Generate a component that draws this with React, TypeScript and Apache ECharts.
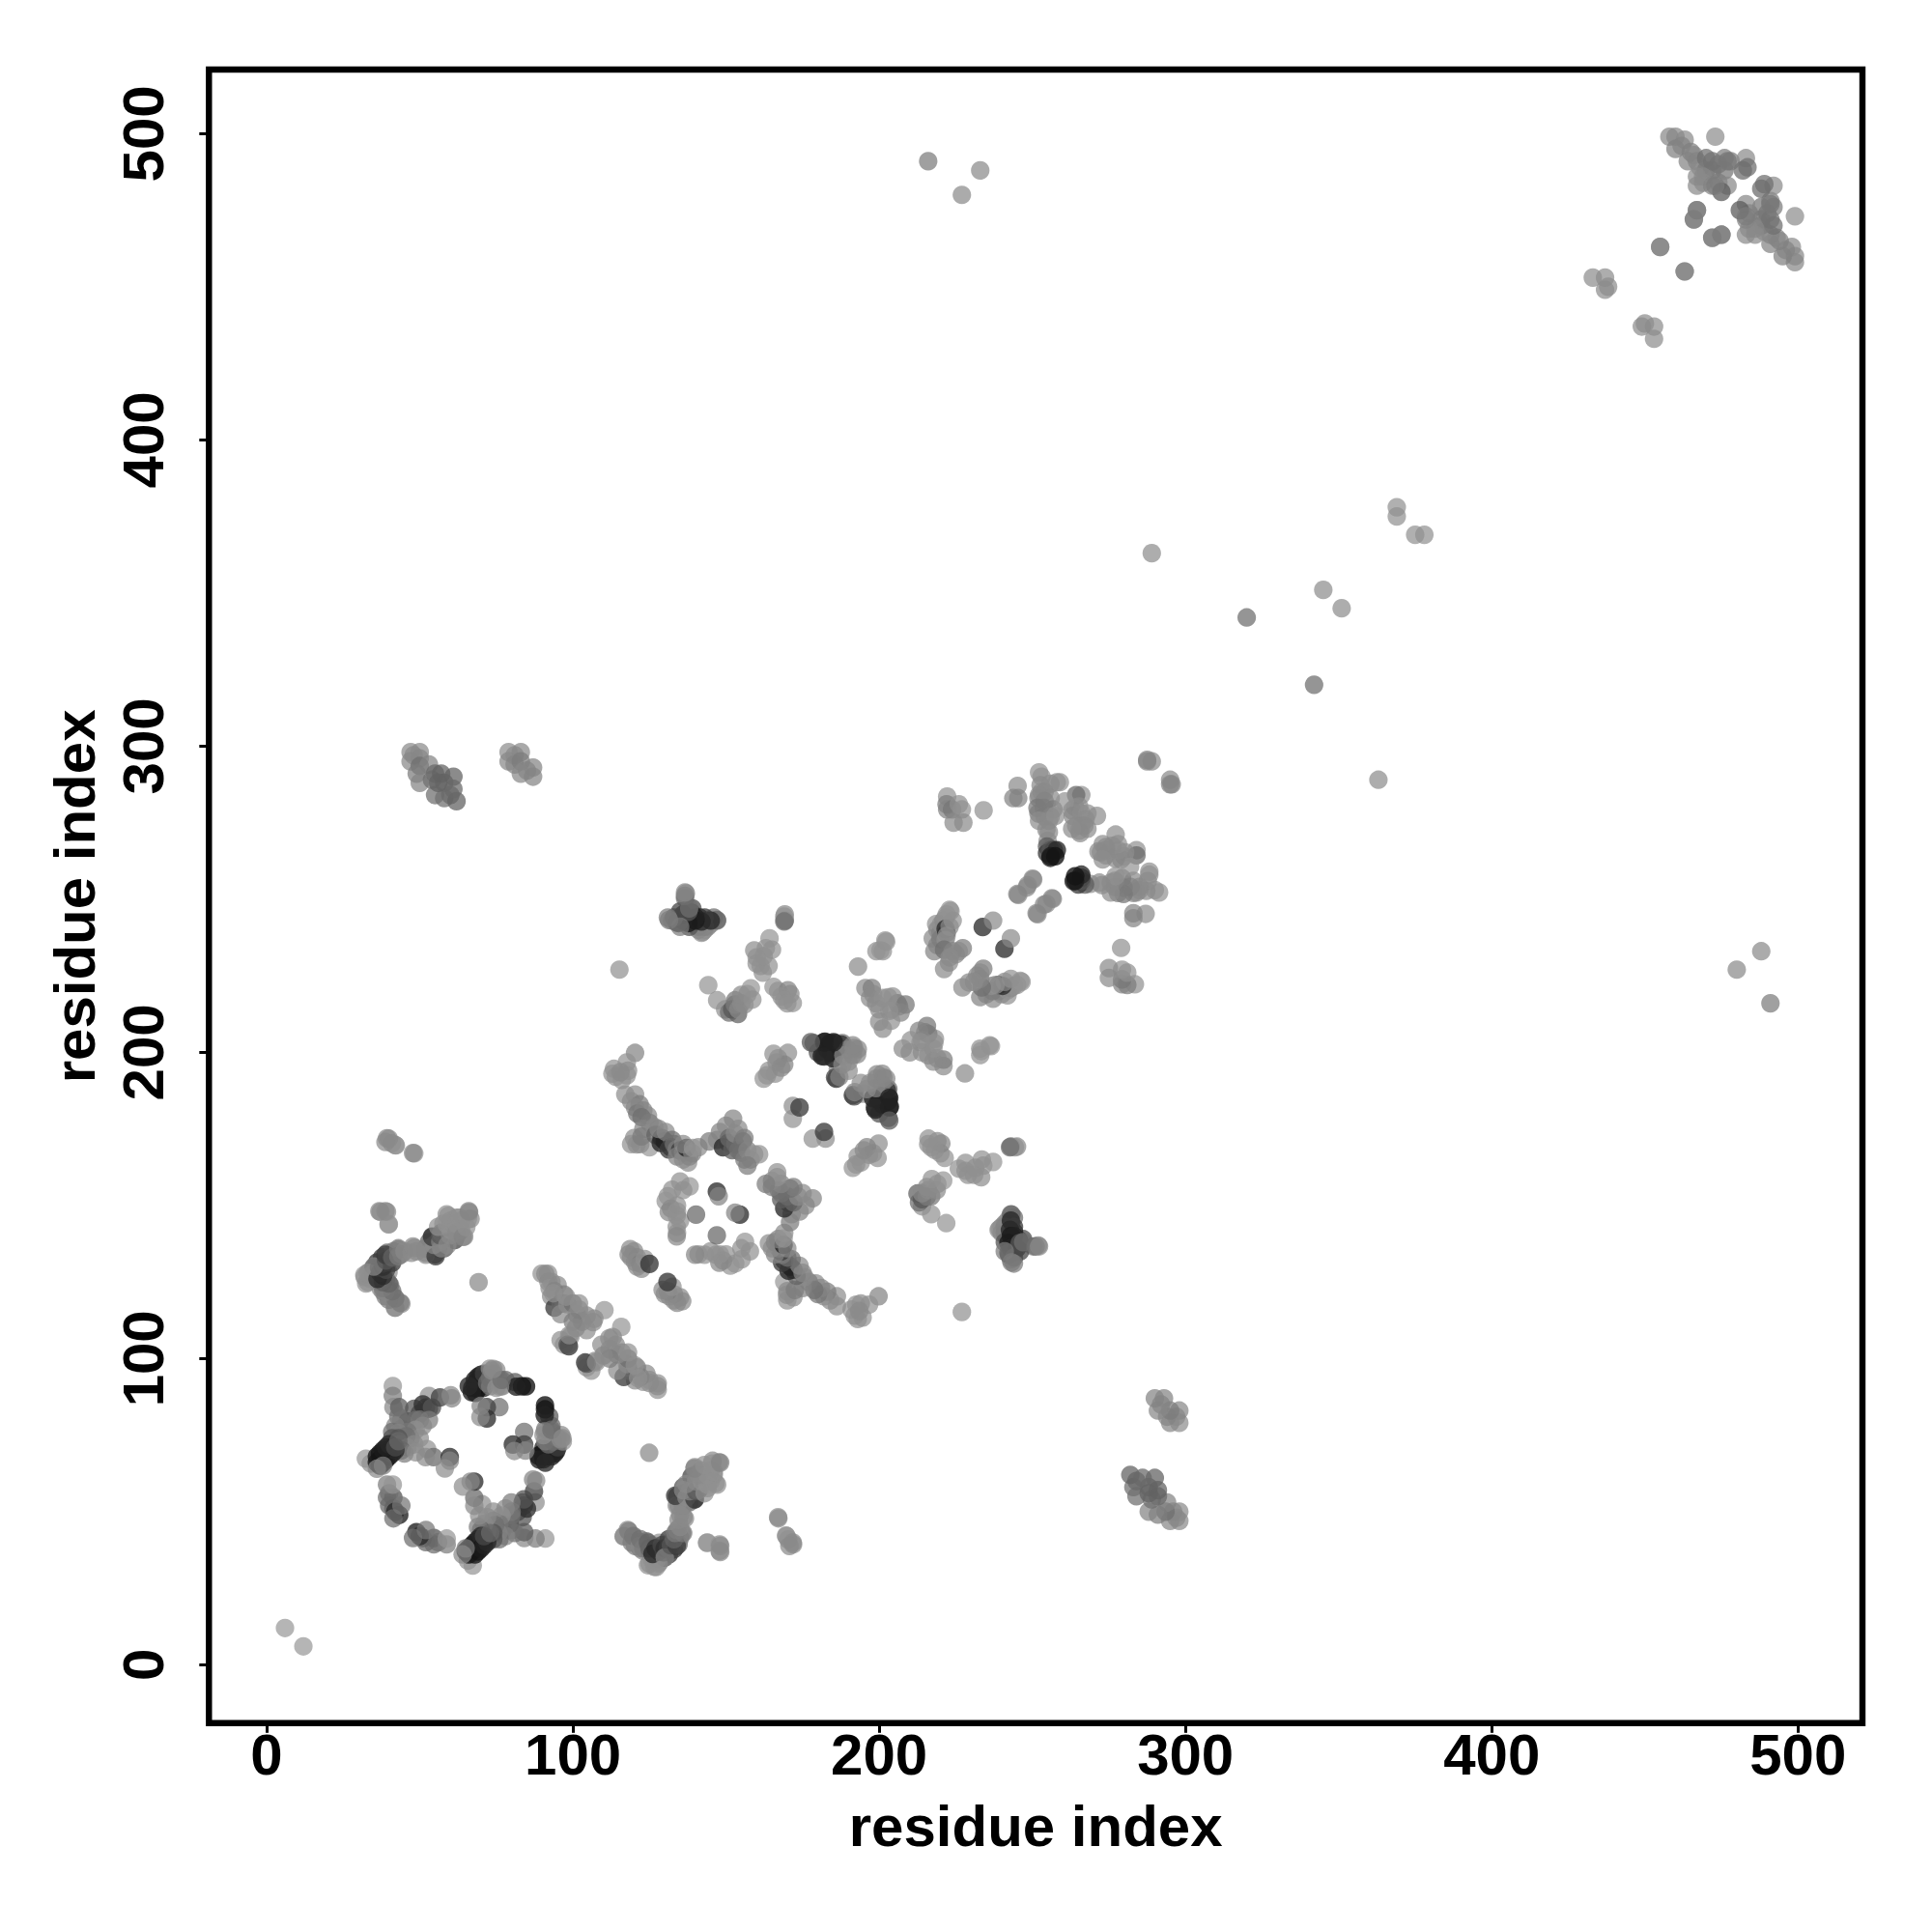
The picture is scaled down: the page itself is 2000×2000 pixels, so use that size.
import React, { useEffect, useRef } from "react";
import * as echarts from "echarts";

type C = [number, number, number];

const axisTicks = [0, 100, 200, 300, 400, 500];
const axisName = "residue index";

// Contacts: [residue i, residue j, score]. The map is symmetric, each contact is plotted at (i,j) and (j,i).
const termini: C[] = [[6,12,0],[216,491,.2],[227,480,.1],[233,488,.1],[289,363,.08],[320,342,.3],[345,351,.08],[369,378,.05],[369,375,.05],[433,453,.08],[437,453,.08],[438,450,.08],[437,449,.08],[287.5,295,.15],[289,295,.1],[287.5,295.5,.15],[169,125,.0]];

const cTerm: C[] = [[458,499,.12],[460,499,.12],[463,498,.1],[460,495,.18],[462,496,.15],[465,494,.18],[466,493,.12],[464,491,.15],[467,491,.15],[468,489,.1],[473,499,.08],[470,492,.3],[470,488,.2],[472,488,.25],[474,490,.25],[476,488,.25],[478,491,.2],[472,491,.28],[476,492,.2],[469,486,.12],[469,484,.1],[474,484,.2],[483,492,.1],[482,488,.32],[467,486,.1],[467,483,.1],[472,483,.15],[477,483,.12],[475,481,.45],[467,475,.2],[466,472,.18],[472,466,.18],[475,467,.2],[473,483,.2],[491,477,.25],[463,455,.15],[455,463,.15],[483.5,489,.3]];

const ringLeft: C[] = [[41.2,91,.02],[41.2,87.8,.2],[41.4,84.1,.12],[43.3,84.1,.45],[48.2,83.6,.5],[53,87.8,.08],[53,83.6,.7],[50,82,.6],[51,85,.8],[52,84,.75],[54,84,.5],[56.6,87.3,.65],[60.1,88,.1],[60.5,87,.15],[44,79.9,.2],[46,79.4,.5],[43,81,.3],[48.7,79.9,.3],[50,80,.25],[53,79.9,.2],[51,78,.12],[44,77,.35],[42,78,.15],[41,76,.3],[48.7,76.7,.05],[46,76,.25],[43,75.7,.15],[47,74,.2],[50,74,.1],[45.6,74.6,.3],[43,74,.5],[41,74,.5],[42.4,72,.5],[32.4,67.3,.02],[34,65.7,.05],[43.5,72,.35],[48.2,72,.1],[46,71,.1],[44,70,.4],[45,69,.2],[48.7,69.4,.08],[52.4,70.4,.05],[54.5,67.8,.35],[51.9,67.8,.1],[59.8,67.8,.8],[59.8,66.6,.12],[58.2,64.1,.08]];
const ringLeftDark: C[] = [[36,66,1],[37,67,1],[38,68,.95],[39,69,1],[40,70,.95],[41,71,.85],[37,65,1],[38,66,.95],[39,67,.95],[40,68,1],[41,69,.9],[42,70,.85],[36,68,.95],[37,69,1],[38,70,.95],[39,71,.9],[40,72,.85],[38,65,.2],[36,64,.1],[42,71,.6],[43,73,.35]];
const ringLower: C[] = [[39.3,54.6,.3],[41.4,54.6,.5],[40,56,.3],[40,52,.35],[39.3,58.8,.2],[41.2,58.8,.02],[41.4,51,.4],[43.3,48.9,.9],[42,50,.85],[41.4,47.8,.3],[44,52,.25]];
const ringTop: C[] = [[69.8,94.6,1],[68.7,92.5,1],[67.1,90.4,.9],[68.2,88.8,1],[70.8,90.4,.85],[69.8,91.5,.95],[68,91,1],[70,93,1],[71,92,.85],[69,90,1],[68,93,.9],[69,94,.9],[67,89,.9],[66,91,.85],[71,95,.7],[72,92,.3],[73,91,.2],[72.9,96.7,.05],[75,96.2,.1],[74,95,.15],[72.9,93.6,.3],[76,93,.2],[75,90.4,.05],[76,84.1,.3],[71.9,84.1,.65],[71.9,80.4,.8],[69.8,80.9,.1],[69.9,84.5,.15],[77,91,.15],[78,93,.35],[81.1,92.3,.45],[83.4,90.9,1],[84.7,90.9,1],[81.5,90.8,.9],[73.6,96,.08],[76.2,90.8,.08],[76.7,93,.3],[74,96.6,.1]];

const arm40: C[] = [[39.3,171.9,.1],[40.9,170.3,.1],[42.2,169.6,.02],[48.2,167,.05],[37.2,147.9,.1],[39.3,147.9,.1],[39.8,143.8,.02],[31.9,127.2,.05],[33.5,128.2,.1],[34,126.6,.1],[35,129.8,.85],[36,128,.8],[37,130,.85],[38,131,.7],[35,127,.6],[36.1,131.4,.7],[37.7,133,.7],[38,128,.4],[39,126,.3],[33,125,.1],[36,126,.15],[39.8,128.2,.05],[40,122,.2],[38,122,.15],[40.3,124,.3],[37.2,123,.1],[38.8,120.3,.2],[41.9,119.8,.12],[44,117.9,.1],[41.9,116.6,.05],[41,133,.5],[39.3,134.5,.35],[41.4,135,.2],[43,135.6,.15],[48.2,136.1,.15],[51.9,134.5,.2],[52,136,.3],[55,134,.7],[53,138,.35],[56,136,.6],[58,136,.5],[54,139.8,.75],[57.2,138.7,.3],[60,140,.4],[61.4,138.7,.6],[62,140,.2],[58.2,141.9,.1],[60,144,.1],[59.3,146.6,.05],[63.5,141.9,.1],[62,146,.1],[63.5,145,.12],[66.6,145.6,.1],[66.1,147.7,.12],[64.5,139.8,.1],[57.7,144,.05],[69.2,124.9,.12]];
const band90: C[] = [[89.8,127.7,.05],[91.9,127.7,.05],[91,127.6,.1],[92,125,.1],[93,125,.08],[92.4,123,.05],[95,124,.1],[94,122,.15],[92.9,120.3,.1],[94,116.6,.7],[96,118,.4],[97,118,.35],[97.1,120.9,.2],[96,114.5,.1],[98.2,117.7,.08],[100,118,.3],[101.3,114.5,.1],[102,116,.12],[104.5,114,.12],[110.3,115.8,.02],[106.6,111.9,.1],[107,113,.1],[104.5,109.3,.08],[103,112,.1],[100,112,.2],[101,110,.12],[99.2,107.2,.1],[97.1,104.5,.05],[96,106,.05],[98.7,104,.75],[102,118,.05],[97.8,120.2,.05],[93.6,121.3,.05],[98.3,104.5,.5],[98.8,107.6,.08]];
const cluster120: C[] = [[120.3,199.8,.15],[117.6,196.7,.05],[118,194,.08],[113.4,194.6,.05],[112.9,193,.05],[114,192,.05],[116,191,.05],[117.6,192.5,.05],[115.5,193.5,.1]];
const band120: C[] = [[117.1,186.2,.08],[119,184,.1],[120.3,186.2,.08],[121.8,183,.2],[120.3,182,.1],[121,180,.25],[123,181,.15],[124.5,179.3,.1],[122.4,178.8,.3],[125,177,.2],[120,172,.08],[119,170,.05],[122,170,.1],[123,175,.15],[120.8,169.9,.08],[122.4,172.5,.2],[126.6,175.6,.1],[127,173,.4],[129,172,.75],[128.7,170.4,.85],[130,171,.9],[128,175,.12],[130.3,174,.1],[132,169,.85],[132.4,171.4,.3],[131.3,168.3,.7],[133,170,.3],[133.9,168.3,.2],[135,168,.7],[136,167.2,.2],[134,166,.15],[136,165,.1],[137.6,164,.08],[138,166,.15],[137.1,168.8,.9],[136,170,.1],[139,167,.15],[141,169,.1],[139.2,168.8,.02],[144.5,170.9,.2],[147.1,171.4,.12],[148,174,.15],[150,176,.1],[152.3,178.3,.15],[149,169,.85],[150.8,170.4,.7],[151,172,.35],[152,168,.45],[153,170,.35],[152.9,173.5,.1],[154,175,.1],[154,168,.3],[155.5,170.9,.3],[156,172,.2],[155,167.2,.3],[156,165,.2],[157,168,.15],[158,165,.12],[159.2,166.7,.05],[160.8,166.7,.05],[157,163,.2]];
const innerRing: C[] = [[135,157.8,.05],[138.1,156.2,.02],[136,155,.05],[132.4,155.1,.05],[131,153,.03],[130.3,151.4,.02],[134,150,.05],[132,149,.1],[131.3,147.8,.12],[134,148,.03],[133.9,146.7,.05],[135,145,.05],[133.9,143,.05],[134,141,.05],[133.9,139.9,.12],[140.2,147,.35],[147,154.5,.8],[147.6,153,.15]];
const cluster118: C[] = [[118.7,135.7,.1],[118.2,134,.12],[120,135,.1],[119,133,.1],[121,133,.12],[120.3,131.5,.1],[122,131,.2],[121,130,.1],[122.4,129.3,.1],[123.4,132.5,.05],[125,130.9,.75]];
const ncurve: C[] = [[143.9,39.9,.02],[148.1,38.8,.1],[148.1,36.8,.1],[167.1,47.8,.1],[169.7,42,.05],[171.8,39.9,.1],[170.7,38.8,.1],[116.6,42,.1],[118.2,43.6,.2],[119.2,39.9,.2],[119.7,42,.25],[121.8,38.8,.1],[122,41,.3],[123,38,.2],[124.5,39.9,.4],[125,37,.25],[124.5,32.5,.05],[126.6,32,.05],[126,34,.05],[127.6,34.6,.1],[128,33,.05],[125,38,.4],[127,38,.8],[126,36.2,.85],[128,37,.8],[129,39,.6],[129.7,36.7,.7],[130,38,.8],[131,38,.7],[131.3,41,.7],[130,35,.1],[132,39,.5],[133.9,38.8,.7],[133,41,.4],[133.4,43,.2],[136,43,.2],[134,44,.2],[135,45,.1],[134.5,47.3,.1],[136.6,47.8,.1],[135,49,.1],[133.9,52,.1],[136,52,.1],[133.4,55.2,.7],[137.1,54.6,.1],[139.7,54.1,.7],[136,57,.1],[138.1,56.7,.15],[140.2,56.7,.5],[141,57,.4],[143,56,.05],[137,59,.1],[140.2,59.9,.1],[143.9,58.8,.02],[142,60,.05],[145,60,.05],[147.1,58.8,.05],[141,62,.1],[144,62,.05],[146,63,.05],[139.7,64.1,.15],[142.9,65.2,.05],[145.5,65.7,.05],[148.1,66,.15]];
const patch170: C[] = [[171.8,178.3,.05],[171.8,182.5,.08],[174,182,.7],[170.2,199.8,.08],[166.5,196.7,.12],[167,198,.08],[169,196,.15],[163.4,192.5,.05],[164,194,.05],[166,193,.05],[162.3,191.4,.03],[165.5,199.5,.05],[168,195,.1]];
const patch135: C[] = [[132.4,243,.1],[135,244,.1],[137.1,245,.15],[136.9,251.9,.12],[136.6,250.3,.2],[142.3,239.3,.08],[143,240,.1],[144,241,.15],[145,241.9,.1],[133.9,242.4,.6],[137,243,.3],[139,247,.55],[138.7,245.6,.65],[140.2,241.4,.8],[141,241,.8],[140,243,.9],[141.3,244,.95],[143.9,243,.95],[146,244,.3],[147.1,243,.3],[169.2,243,.35],[169.2,245,.12]];
const patch160: C[] = [[159.2,233.3,.08],[161.3,228.2,.05],[160,229,.05],[162,226,.05],[160,231,.05],[163.9,228.2,.05],[163,234,.05],[164.2,237.2,.02],[165,233.5,.05],[162.3,231.4,.05],[115.2,227,.05],[144.2,221.9,.03],[147.1,217,.05],[149.7,214,.05],[151,213,.3],[153.9,212.5,.4],[152,214,.5],[152.9,215.6,.2],[153,217,.25],[154,214,.1],[155,216,.1],[156,215.6,.1],[157,219,.05],[155,218.8,.1],[158.1,220.9,.02],[158.6,217.2,.05],[165.5,221.4,.03],[167,220,.05],[170.2,220.3,.15],[171,219,.1],[168.1,218.2,.05],[169,217,.05],[171.8,216.1,.05],[170,216,.05]];
const patch180: C[] = [[178.6,203,.45],[180,200,.5],[181.3,198.8,.9],[182.3,203.5,.9],[183,201,.9],[184,203,.95],[185.5,203,.9],[186,200,.8],[184.4,199.8,.95],[188,203,.3],[186.5,194.6,.08],[186,191.4,.75],[187.6,202.5,.8],[189.7,200.9,.2],[191.8,201.4,.12],[193,201,.12],[192.8,199.3,.12],[185.6,191.8,.6],[185,198,.9],[182,198.6,.85],[188,196,.1],[187,192,.15],[188.3,199,.1],[190,197,.1],[190,194,.08],[191.4,199.1,.12],[191.4,202.3,.12],[185.1,203.3,.9],[182,203.3,.9],[177.7,203.3,.45]];
const patch195: C[] = [[202.3,236.1,.03],[199.1,233,.05],[201.2,233,.05],[193.1,228,.1],[195.5,221,.1],[197.6,221,.2],[198,219,.1],[197,217.7,.1],[199,216,.1],[201.2,217.7,.05],[200,214,.08],[204.4,218.2,.05],[206,216,.2],[206.5,215,.08],[208.6,215.6,.25],[204,214,.1],[207,213,.15],[203.3,213.5,.05],[201.2,207.7,.1],[200,210,.1],[203.9,210.3,.05],[203,218,.05],[200.4,233.3,.02],[202,236.5,.03]];
const patch220: C[] = [[217.5,237.2,.1],[218,233,.15],[218.6,241.9,.05],[219,240,.1],[220,239,.15],[219,235,.15],[220,237,.2],[220.2,241.9,.05],[221,243,.1],[221.7,244,.05],[222,245,.05],[223.3,246.1,.02],[222,239,.7],[221.7,240.3,.8],[223,241,.1],[221.7,236.7,.05],[222,238,.05],[221.2,233.5,.3],[224,233,.15],[225,232,.1],[227.3,234,.2],[226,233,.1],[223,231,.1],[222.8,229.3,.1],[221.2,227.2,.1],[233.8,240.9,.8],[237.2,243,.1],[223,246.5,.03],[224,243,.05]];
const patch245: C[] = [[222.2,283.5,.05],[222,281,.2],[222.2,279.3,.15],[223.8,279.3,.25],[227,279.3,.05],[226,281,.05],[224.3,275,.1],[227.5,275,.1],[234.1,279,.05],[245.2,287,.1],[245.4,283,.15],[243.8,283,.15],[250.1,256.7,.1],[245.4,251.4,.12],[256.4,250.3,.1],[251.7,245.1,.12],[248.5,254.6,.12],[253.8,248.2,.12]];
const patch255: C[] = [[252.2,291.4,.05],[253,290,.05],[252.7,287.2,.1],[258,288.2,.05],[259,288.2,.05],[255.9,287.7,.08],[253,285,.08],[254,285,.1],[256,283,.1],[266,284,.05],[252,283,.1],[252.2,284,.1],[254,282,.15],[264.3,284,.35],[265.3,280.3,.08],[264,280,.1],[263,279,.12],[251.7,279.8,.25],[252,278,.2],[253.8,279.8,.2],[254,277,.2],[256.9,279.3,.2],[256,277,.15],[252.2,275.6,.08],[255.4,275.6,.1],[257.5,277.2,.05],[260.6,281.9,.03],[263.2,277.2,.12],[266,278,.08],[268,278,.05],[265.3,272.4,.08],[267.4,276.1,.08],[271.1,277.2,.08],[264.3,274,.1],[266,274,.1],[268,273,.08],[255.4,271.9,.1],[254.6,272.7,.1],[265.6,271.6,.1],[267,274,.1],[273,263,.08],[255,269,.1],[254.8,267.2,.45],[255.6,266.4,.35],[254.8,265,.7],[256,266,.5],[257,266,.6],[258,266,.85],[255.9,263.5,.9],[256,264,.95],[257.5,264,1]];
const pairs280: C[] = [[47,298,.1],[48,297,.1],[50,298,.1],[47,295,.12],[50,296,.12],[50,293.5,.3],[53,294,.15],[49,291,.2],[50,288,.15],[54,289,.3],[55,291,.35],[57,291,.4],[58,288,.4],[61,290,.4],[55,284,.3],[58,283,.3],[60,284,.35],[62,282,.4],[61,286,.35],[56,288,.4],[79,298,.08],[79,295,.12],[81,297,.1],[81,294,.15],[83,298,.12],[83,295,.2],[85,292,.15],[87,293,.15],[83,291,.12],[87,290,.15]];
const pairs240: C[] = [[243.2,147,.35],[239,142,.05],[240,141,.1],[241,143,.15],[241,138,.5],[243,145,.85],[244,143,.7],[242.7,142,.85],[243,140,.95],[244,140,.9],[242.2,137.7,.95],[243,136,.9],[242.2,134.5,.75],[245,136,.85],[245.9,137.7,.5],[244,133,.6],[246,135,.6],[247,138,.3],[243.2,131.4,.2],[244,131,.2],[251.1,136.6,.3],[252.2,136.6,.1],[244.3,169,.05],[242.7,169,.3],[241,135,.2]];

const contacts: C[] = [...termini, ...cTerm, ...ringLeft, ...ringLeftDark, ...ringLower, ...ringTop, ...arm40, ...band90, ...cluster120, ...band120, ...innerRing, ...cluster118, ...ncurve, ...patch170, ...patch135, ...patch160, ...patch180, ...patch195, ...patch220, ...patch245, ...patch255, ...pairs280, ...pairs240];

const shade = (p: number) => {
  const g = Math.round(150 - 130 * p);
  const a = 0.88 + 0.12 * p;
  return `rgba(${g},${g},${g},${a})`;
};

const FONT = "Liberation Sans";

export default function App() {
  const ref = useRef<HTMLDivElement>(null);
  useEffect(() => {
    const chart = echarts.init(ref.current!, undefined, { renderer: "svg" });
    const points = contacts.flatMap(([i, j, p]) => [[i, j, p], [j, i, p]]);
    const axisBase = {
      type: "value" as const,
      name: axisName,
      nameLocation: "middle" as const,
      nameTextStyle: { fontFamily: FONT, fontWeight: "bold" as const, fontSize: 60, color: "#000" },
      splitLine: { show: false },
      axisLine: { show: false, onZero: false },
      axisTick: { show: true, length: 10, customValues: axisTicks, lineStyle: { color: "#000", width: 3 } },
    };
    chart.setOption({
      animation: false,
      backgroundColor: "#fff",
      grid: { show: true, left: 216.3, right: 72, top: 72, bottom: 216.2, borderColor: "#000", borderWidth: 6.4, backgroundColor: "transparent" },
      xAxis: {
        ...axisBase,
        min: -18.83,
        max: 521.04,
        nameGap: 77,
        axisLabel: { customValues: axisTicks, margin: 3, fontFamily: FONT, fontWeight: "bold", fontSize: 60, color: "#000" },
      },
      yAxis: {
        ...axisBase,
        min: -19.08,
        max: 520.93,
        nameGap: 109,
        axisLabel: { customValues: axisTicks, rotate: 90, margin: 38, fontFamily: FONT, fontWeight: "bold", fontSize: 60, color: "#000" },
      },
      series: [
        {
          type: "scatter",
          symbol: "circle",
          symbolSize: 19.2,
          data: points,
          itemStyle: { color: (d: any) => shade(d.value[2]) },
        },
      ],
    });
    return () => chart.dispose();
  }, []);
  return <div ref={ref} style={{ position: "absolute", left: 0, top: 0, width: 2000, height: 2000 }} />;
}
